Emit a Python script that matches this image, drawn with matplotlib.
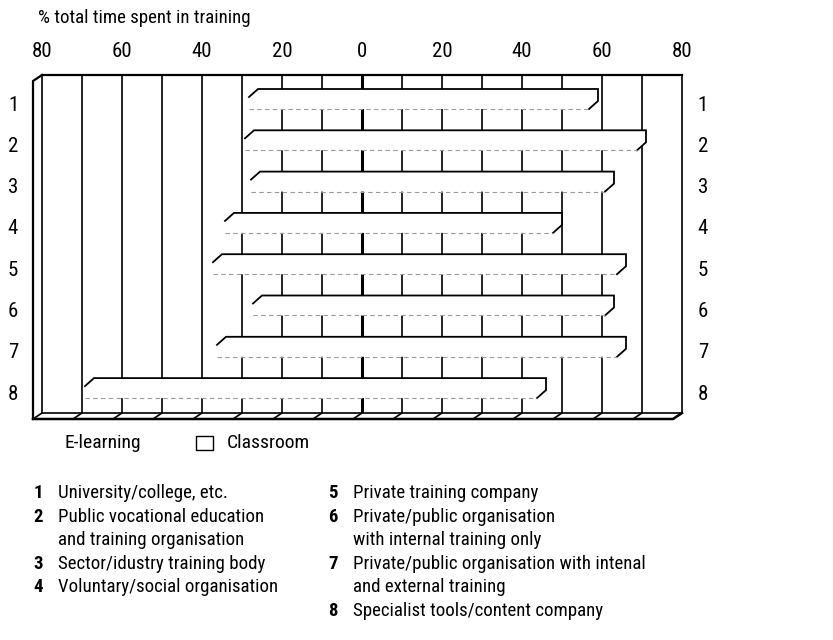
import matplotlib
matplotlib.use('Agg')
import matplotlib.pyplot as plt
from matplotlib.patches import Polygon, Rectangle

plt.rcParams['font.family'] = ['Roboto Condensed', 'DejaVu Sans']

# data
categories = ['1', '2', '3', '4', '5', '6', '7', '8']
elearning = [26, 27, 25.5, 32, 35, 25, 34, 67]
classroom = [59, 71, 63, 50, 66, 63, 66, 46]
ticks = [-80, -60, -40, -20, 0, 20, 40, 60, 80]
tick_labels = ['80', '60', '40', '20', '0', '20', '40', '60', '80']
left_notes = [('1', 'University/college, etc.'),
              ('2', 'Public vocational education\nand training organisation'),
              ('3', 'Sector/idustry training body'),
              ('4', 'Voluntary/social organisation')]
right_notes = [('5', 'Private training company'),
               ('6', 'Private/public organisation\nwith internal training only'),
               ('7', 'Private/public organisation with intenal\nand external training'),
               ('8', 'Specialist tools/content company')]

W, H = 833, 640
fig = plt.figure(figsize=(W / 100, H / 100), dpi=100)
ax = fig.add_axes([0, 0, 1, 1])

# 4 px per percent, 0 at x=362 px; 41.3 px per row, row 1 at y=103 px
PX, ROW = 4.0, 41.3
ax.set_xlim(-362 / PX, (W - 362) / PX)
ax.set_ylim(1 + (H - 103) / ROW, 1 - 103 / ROW)
ax.axis('off')

def ypx(p):
    return 1 + (p - 103) / ROW

DX = 9 / PX          # depth offset in x
DY = 8 / ROW         # depth offset in y (bars)
WDY = 6 / ROW        # depth offset for the walls
BH = 12 / ROW        # bar front height
top, wall_bot = ypx(75), ypx(413)
k = 'black'

# back wall grid
for v in range(-80, 81, 10):
    ax.plot([v, v], [top, wall_bot], color=k, lw=2.2 if v == 0 else 1.2, zorder=1,
            solid_capstyle='butt')
ax.plot([-80, 80], [top, top], color=k, lw=1.6, zorder=1)

# left side wall
ax.plot([-80, -80 - DX, -80 - DX], [top, top + WDY, wall_bot + WDY], color=k, lw=1.6, zorder=1)
# floor
ax.plot([-80 - DX, 80 - DX, 80], [wall_bot + WDY, wall_bot + WDY, wall_bot], color=k, lw=1.8, zorder=1)
ax.plot([-80, 80], [wall_bot, wall_bot], color=k, lw=1.2, zorder=1)
for v in range(-80, 81, 10):
    ax.plot([v, v - DX], [wall_bot, wall_bot + WDY], color=k, lw=1.2, zorder=1)

# bars: e-learning to the left of 0, classroom to the right
for i, (e, c) in enumerate(zip(elearning, classroom)):
    y = i + 1
    yt, yb = y - BH / 2, y + BH / 2
    pts = [(-e - DX, yb), (-e - DX, yt), (-e, yt - DY), (c, yt - DY),
           (c, yb - DY), (c - DX, yb)]
    ax.add_patch(Polygon(pts, closed=True, facecolor='white', edgecolor='none', zorder=3))
    xs, ys = zip(*pts[1:])
    ax.plot(xs, ys, color=k, lw=1.3, zorder=4, solid_joinstyle='miter')
    ax.plot([-e - DX, c - DX], [yb, yb], color='#9a9a9a', lw=0.8, ls=(0, (4, 3)), zorder=4)

# tick labels on top
for t, lab in zip(ticks, tick_labels):
    ax.text(t, ypx(52), lab, ha='center', va='center', fontsize=15)
ax.text(-81, ypx(18), '% total time spent in training', ha='left', va='center', fontsize=13.6)

# row labels both sides
for i, lab in enumerate(categories):
    ax.text((13 - 362) / PX, i + 1.05, lab, ha='center', va='center', fontsize=15)
    ax.text((703 - 362) / PX, i + 1.05, lab, ha='center', va='center', fontsize=15)

# legend
ax.text((65 - 362) / PX, ypx(443), 'E-learning', ha='left', va='center', fontsize=14)
ax.add_patch(Rectangle(((196 - 362) / PX, ypx(450)), 17 / PX, -14 / ROW,
                       facecolor='white', edgecolor=k, lw=1.0))
ax.text((227 - 362) / PX, ypx(443), 'Classroom', ha='left', va='center', fontsize=14)

# footnotes
def notes(items, xn, xt, y0):
    y = y0
    for num, txt in items:
        fig.text(xn / W, 1 - y / H, num, ha='center', va='center', fontsize=13.5, fontweight='bold')
        for line in txt.split('\n'):
            fig.text(xt / W, 1 - y / H, line, ha='left', va='center', fontsize=13.6)
            y += 23.6

notes(left_notes, 38, 58, 493)
notes(right_notes, 333, 353, 493)

fig.savefig('out.png', dpi=100)
